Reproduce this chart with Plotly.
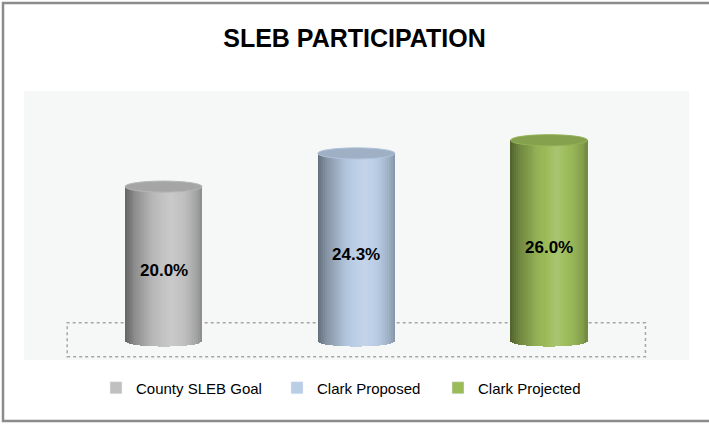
import math
import plotly.graph_objects as go

# ---------------- data ----------------
categories = ["County SLEB Goal", "Clark Proposed", "Clark Projected"]
values = [20.0, 24.3, 26.0]
labels = ["20.0%", "24.3%", "26.0%"]
colors = ["#c0c0c0", "#b9cde5", "#9bbb59"]

# ---------------- style / geometry ----------------
W, H = 709, 424
PL, PR, PT, PB = 24, 689, 91, 360          # plot area in pixels
BAR_W = 0.40                               # bar width in category units
CAP_H = 0.72                               # half-height of the ellipse caps (y units)
N_STRIPS = 40
Y_RANGE = [-2.46, 32.38]
X_RANGE = [-0.724, 2.726]
LEGEND_LEFT_PX = [96, 277, 438]            # left edge of each legend box (pixels)

# shading profile across the cylinder (position 0..1 -> brightness factor)
PROFILE = [(0.0, 0.52), (0.12, 0.72), (0.35, 0.95), (0.6, 1.06), (0.8, 0.98), (0.93, 0.85), (1.0, 0.72)]


def hex_rgb(c):
    c = c.lstrip("#")
    return tuple(int(c[i:i + 2], 16) for i in (0, 2, 4))


def shade(c, f):
    r, g, b = hex_rgb(c)
    if f <= 1:
        out = [v * f for v in (r, g, b)]
    else:
        k = min(1.0, (f - 1) * 2.5)
        out = [v + (255 - v) * k for v in (r, g, b)]
    return "rgb(%d,%d,%d)" % tuple(int(max(0, min(255, round(v)))) for v in out)


def intensity(t):
    for (t0, f0), (t1, f1) in zip(PROFILE[:-1], PROFILE[1:]):
        if t0 <= t <= t1:
            return f0 + (f1 - f0) * (t - t0) / (t1 - t0)
    return PROFILE[-1][1]


pw, ph = PR - PL, PB - PT
def px(xp):
    return (xp - PL) / pw
def py(yp):
    return (PB - yp) / ph


xs = list(range(len(categories)))
fig = go.Figure()

# cylinder bodies drawn as thin vertical strips with shading
sw = BAR_W / N_STRIPS
for i in range(N_STRIPS):
    tc = (i + 0.5) / N_STRIPS
    u = 2 * tc - 1
    dip = CAP_H * math.sqrt(max(0.0, 1 - u * u))
    bases = [-dip for _ in values]
    lengths = [v + dip for v in values]
    fig.add_trace(go.Bar(
        x=xs, y=lengths, base=bases,
        width=sw * 1.25, offset=-BAR_W / 2 + i * sw - sw * 0.1,
        marker=dict(color=[shade(c, intensity(tc)) for c in colors], line=dict(width=0)),
        showlegend=False, hoverinfo="skip",
    ))

# legend entries, one legend box per series
legend_names = ["legend", "legend2", "legend3"]
for name, c, lg in zip(categories, colors, legend_names):
    fig.add_trace(go.Bar(x=[None], y=[None], name=name, marker=dict(color=c),
                         showlegend=True, legend=lg))

shapes = []
# floor outline (dotted)
shapes.append(dict(type="rect", xref="x", yref="y", x0=-0.5, x1=2.5, y0=-2.03, y1=2.37,
                   line=dict(color="#a6a6a6", width=1.5, dash="dot"), fillcolor="rgba(0,0,0,0)",
                   layer="below"))
# top caps
for x, v, c in zip(xs, values, colors):
    shapes.append(dict(type="circle", xref="x", yref="y",
                       x0=x - BAR_W / 2, x1=x + BAR_W / 2, y0=v - CAP_H, y1=v + CAP_H,
                       fillcolor=shade(c, 0.86), line=dict(color=shade(c, 0.95), width=1)))

# outer chart border (left, top, bottom visible)
shapes.append(dict(type="rect", xref="paper", yref="paper",
                   x0=px(3), x1=px(716), y0=py(421), y1=py(3),
                   line=dict(color="#8c8c8c", width=2.5), fillcolor="rgba(0,0,0,0)", layer="below"))

annotations = []
for x, v, t in zip(xs, values, labels):
    annotations.append(dict(x=x, y=v / 2, xref="x", yref="y", text=t, showarrow=False,
                            yshift=-7,
                            font=dict(family="Liberation Sans, Arial, sans-serif", size=17,
                                      color="#000000", weight="bold")))

legend_font = dict(family="Liberation Sans, Arial, sans-serif", size=15, color="#000000")
legend_layout = {}
for lg, lx in zip(legend_names, LEGEND_LEFT_PX):
    legend_layout[lg] = dict(orientation="h", x=px(lx), xanchor="left", y=py(388), yanchor="middle",
                             font=legend_font, bgcolor="rgba(0,0,0,0)")

fig.update_layout(
    width=W, height=H,
    margin=dict(l=PL, r=W - PR, t=PT, b=H - PB),
    paper_bgcolor="#ffffff",
    plot_bgcolor="#f6f8f8",
    barmode="overlay",
    bargap=0,
    title=dict(text="<b>SLEB PARTICIPATION</b>", x=0.5, xref="container", xanchor="center",
               y=1 - 38 / H, yref="container", yanchor="middle",
               font=dict(family="Liberation Sans, Arial, sans-serif",
                         size=25, color="#000000")),
    xaxis=dict(range=X_RANGE, visible=False, fixedrange=True),
    yaxis=dict(range=Y_RANGE, visible=False, fixedrange=True),
    showlegend=True,
    shapes=shapes,
    annotations=annotations,
    **legend_layout,
)

fig.write_html("out.html", config={"displayModeBar": False},
               post_script="document.body.style.margin='0';document.body.style.overflow='hidden';")
